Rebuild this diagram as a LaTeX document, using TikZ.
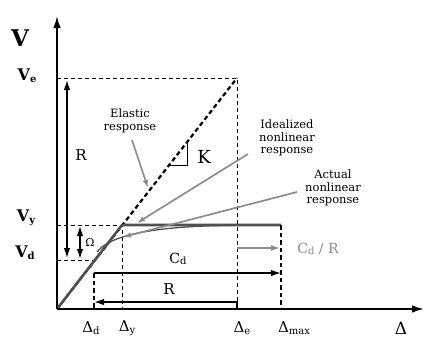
\documentclass[tikz,border=0pt]{standalone}
\usepackage{fontspec}
\setmainfont{DejaVu Serif}
\usetikzlibrary{arrows.meta}
\newcommand\fs[1]{\fontsize{#1}{#1}\selectfont}
\newcommand\lowsub[1]{\raisebox{-0.1em}{\fs{10}#1}}
\definecolor{bilin}{HTML}{505050}
\definecolor{lead}{HTML}{8C8C8C}
\begin{document}
\begin{tikzpicture}[x=1pt,y=-1pt,
  axis/.style={line width=1.7pt,-{Latex[length=12pt,width=7.5pt]}},
  thindash/.style={line width=0.8pt,dash pattern=on 4pt off 3pt},
  thickdash/.style={line width=2.2pt,dash pattern=on 4.5pt off 3pt},
  dimarrow/.style={line width=1.4pt,-{Latex[length=10pt,width=6.5pt]}},
  dimboth/.style={line width=1.4pt,{Latex[length=10pt,width=6.5pt]}-{Latex[length=10pt,width=6.5pt]}},
  leader/.style={line width=1.7pt,color=lead,-{Latex[length=8pt,width=5.5pt]}},
  note/.style={align=center,font=\fs{11.5},inner sep=0pt,text=black},
  lbl/.style={inner sep=0pt}]
\useasboundingbox (0,0) rectangle (425,340);
% coordinates
\coordinate (O) at (57,309);
\coordinate (Ytop) at (57,16);
\coordinate (Xend) at (424,309);
\coordinate (VeL) at (57,78);
\coordinate (E) at (237,78);
\coordinate (Ebot) at (237,309);
\coordinate (VyL) at (57,225);
\coordinate (Knee) at (122,225);
\coordinate (Kbot) at (122,309);
\coordinate (M) at (281,225);
\coordinate (Mbot) at (281,309);
\coordinate (VdL) at (57,260);
\coordinate (VdR) at (93,260);
\coordinate (Dtop) at (94,273);
\coordinate (Dbot) at (94,309);
\coordinate (Cdend) at (281,273);
\coordinate (Rlow) at (237,302);
\coordinate (Rlowend) at (94,302);
% dashed guides
\draw[thindash] (VeL) -- (E) -- (Ebot);
\draw[thindash] (VyL) -- (Knee) -- (Kbot);
\draw[thindash] (VdL) -- (VdR);
% elastic line
\draw[thickdash] (O) -- (E);
% K triangle
\coordinate (Ka) at (170,165);
\coordinate (Kb) at (187,165);
\coordinate (Kc) at (187,142);
\draw[line width=0.9pt] (Ka) -- (Kb) -- (Kc);
% bilinear
\draw[line width=2.6pt,color=bilin,line join=miter] (O) -- (Knee) -- (M);
% actual curve
\coordinate (C0) at (97,252);
\coordinate (C1) at (235,225.3);
\draw[line width=1.3pt,color=bilin] (C0) .. controls (109,236) and (150,226) .. (C1);
% max
\draw[thickdash] (M) -- (Mbot);
\draw[thickdash] (Dtop) -- (Dbot);
% dims
\draw[dimarrow] (Dtop) -- (Cdend);
\draw[dimarrow] (Ebot) -- (Rlow) -- (Rlowend);
\draw[line width=1.3pt,color=lead,-{Latex[length=9pt,width=6pt]}] (237,248) coordinate (CRa) -- (280,248) coordinate (CRb);
\draw[dimboth] (67,258) coordinate (Ra) -- (67,80) coordinate (Rb);
\draw[dimboth] (80,226) coordinate (Oa) -- (80,259) coordinate (Ob);
% axes
\draw[axis] (O) -- (Ytop);
\draw[axis] (O) -- (Xend);
% leaders
\coordinate (L1a) at (132,140); \coordinate (L1b) at (148,188);
\coordinate (L2a) at (248,154); \coordinate (L2b) at (137,223);
\coordinate (L3a) at (297,192); \coordinate (L3b) at (123,237);
\draw[leader] (L1a) -- (L1b);
\draw[leader] (L2a) -- (L2b);
\draw[leader] (L3a) -- (L3b);
% labels
\node[lbl,font=\fs{23}\bfseries] (tV) at (20,38) {V};
\node[lbl,font=\fs{16}\bfseries] (tVe) at (27,76) {V\lowsub{e}};
\node[lbl,font=\fs{16}\bfseries] (tVy) at (26,218) {V\lowsub{y}};
\node[lbl,font=\fs{16}\bfseries] (tVd) at (25,253) {V\lowsub{d}};
\node[lbl,font=\fs{15}] (tR) at (81,155) {R};
\node[lbl,font=\fs{11}] (tO) at (90,242) {Ω};
\node[lbl,font=\fs{18}] (tK) at (204,157) {K};
\node[note] (tEl) at (130,121) {Elastic\\[1pt]response};
\node[note] (tId) at (287,138) {Idealized\\[1pt]nonlinear\\[1pt]response};
\node[note] (tAc) at (333,188) {Actual\\[1pt]nonlinear\\[1pt]response};
\node[lbl,font=\fs{14}] (tCd) at (178,259) {C\lowsub{d}};
\node[lbl,font=\fs{15}] (tR2) at (169,289) {R};
\node[lbl,font=\fs{14},text=lead] (tCdR) at (318,249) {C\lowsub{d} / R};
\node[lbl,font=\fs{15}] (tDd) at (91,328) {Δ\lowsub{d}};
\node[lbl,font=\fs{15}] (tDy) at (127,328) {Δ\lowsub{y}};
\node[lbl,font=\fs{15}] (tDe) at (242,328) {Δ\lowsub{e}};
\node[lbl,font=\fs{15}] (tDm) at (294,328) {Δ\lowsub{max}};
\node[lbl,font=\fs{17},anchor=south] (tD) at (401,335) {Δ};
\end{tikzpicture}
\end{document}
